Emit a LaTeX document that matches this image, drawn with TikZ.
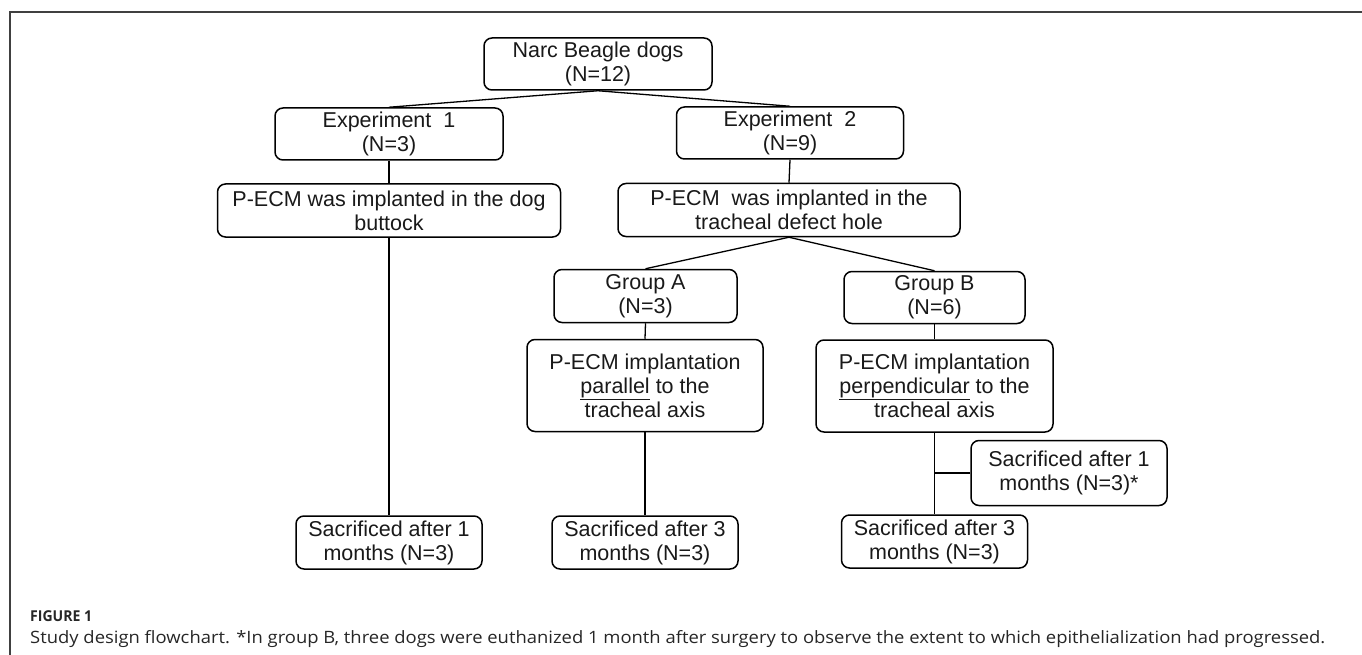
\documentclass[tikz,border=0pt]{standalone}
\usepackage{fontspec}
\usepackage{graphicx}
\setmainfont{Liberation Sans}
\newfontfamily\capfont{Open Sans}
\tikzset{
  x=1pt,y=-1pt,
  box/.style={draw=black, line width=1.5pt, rounded corners=8pt, align=center,
    inner sep=0pt, font=\fontsize{21.5}{24}\selectfont, text=black!90},
  link/.style={draw=black, line width=1.3pt},
}
\begin{document}
\begin{tikzpicture}
\useasboundingbox (0,0) rectangle (1362,655);
% frame
\draw[black!75, line width=1.5pt] (1362,12) -- (10,12) -- (10,655);
% boxes
\node[box, minimum width=228pt, minimum height=52pt] (narc) at (598,64) {Narc Beagle dogs\\(N=12)};
\node[box, minimum width=228pt, minimum height=52pt] (exp1) at (389,134) {Experiment\ \ 1\\(N=3)};
\node[box, minimum width=227pt, minimum height=52pt] (exp2) at (790,133) {Experiment\ \ 2\\(N=9)};
\node[box, minimum width=343pt, minimum height=53pt] (butt) at (389,210.5) {P-ECM was implanted in the dog\\buttock};
\node[box, minimum width=342pt, minimum height=53pt] (trach) at (789,210) {P-ECM\ \ was implanted in the\\tracheal defect hole};
\node[box, minimum width=183pt, minimum height=53pt] (ga) at (645.5,296) {Group A\\(N=3)};
\node[box, minimum width=181pt, minimum height=52pt] (gb) at (934.5,297.5) {Group B\\(N=6)};
\node[box, minimum width=236pt, minimum height=92pt] (par) at (645,385.5) {P-ECM implantation\\\underline{parallel} to the\\tracheal axis};
\node[box, minimum width=237pt, minimum height=92pt] (perp) at (934.5,386) {P-ECM implantation\\\underline{perpendicular} to the\\tracheal axis};
\node[box, minimum width=186pt, minimum height=53pt] (sacl) at (389,542.5) {Sacrificed after 1\\months (N=3)};
\node[box, minimum width=186pt, minimum height=53pt] (sacm) at (645,542.5) {Sacrificed after 3\\months (N=3)};
\node[box, minimum width=186pt, minimum height=53pt] (sacr) at (934.5,541.5) {Sacrificed after 3\\months (N=3)};
\node[box, minimum width=196pt, minimum height=65pt] (sacx) at (1069,473) {Sacrificed after 1\\months (N=3)*};
% connectors
\draw[link] (narc.south) -- (exp1.north);
\draw[link] (narc.south) -- (exp2.north);
\draw[link] (exp1.south) -- (butt.north);
\draw[link] (butt.south) -- (sacl.north);
\draw[link] (exp2.south) -- (trach.north);
\draw[link] (trach.south) -- (ga.north);
\draw[link] (trach.south) -- (gb.north);
\draw[link] (ga.south) -- (par.north);
\draw[link] (par.south) -- (sacm.north);
\draw[link] (gb.south) -- (perp.north);
\draw[link] (perp.south) -- (sacr.north);
\draw[link] (sacx.west) -- (sacx.west -| perp.south);
% caption
\node[anchor=west, inner sep=0pt, text=black!85, font=\capfont\bfseries\fontsize{15}{17}\selectfont] (fig) at (30,616) {\resizebox{62pt}{\height}{FIGURE 1}};
\node[anchor=west, inner sep=0pt, text=black!85, font=\capfont\fontsize{17}{20}\selectfont] (cap) at (30,639)
  {\resizebox{1295pt}{\height}{Study design flowchart. *In group B, three dogs were euthanized 1 month after surgery to observe the extent to which epithelialization had progressed.}};
\end{tikzpicture}
\end{document}
